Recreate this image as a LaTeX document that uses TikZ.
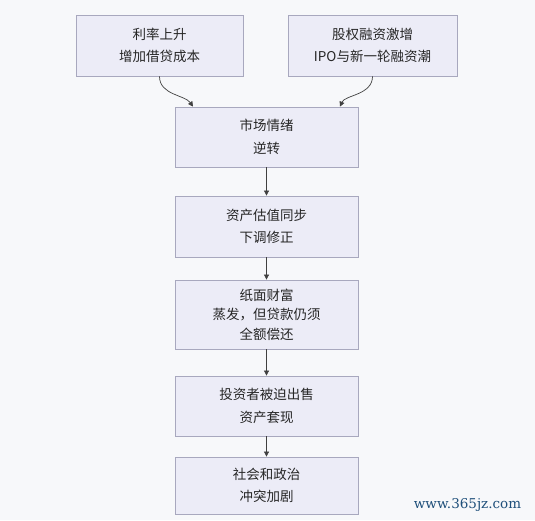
\documentclass[tikz,border=0pt]{standalone}
\usepackage{fontspec}
\setmainfont{Noto Sans CJK SC}
\newfontfamily\wmfont{DejaVu Serif}
\usetikzlibrary{arrows.meta}
\definecolor{bgc}{HTML}{F7F8FA}
\definecolor{boxfill}{HTML}{ECECF7}
\definecolor{boxline}{HTML}{A8A8BE}
\definecolor{arrc}{HTML}{404040}
\definecolor{wmc}{HTML}{1E4F7A}
\tikzset{
  stepbox/.style={draw=boxline, fill=boxfill, line width=0.8pt, inner sep=0pt,
    text=black!85, font=\fontsize{13.5}{22.5}\selectfont, align=center},
  flow/.style={draw=arrc, line width=0.7pt, -{Triangle[length=5pt,width=5pt]}}
}
\begin{document}
\begin{tikzpicture}[x=1pt,y=-1pt]
\fill[bgc] (0,0) rectangle (535,520);
\useasboundingbox (0,0) rectangle (535,520);
\node[stepbox, minimum width=167pt, minimum height=61pt] (a) at (159.5,45.5) {利率上升\\增加借贷成本};
\node[stepbox, minimum width=169pt, minimum height=61pt] (b) at (372.5,45.5) {股权融资激增\\IPO与新一轮融资潮};
\node[stepbox, minimum width=183pt, minimum height=60pt] (c) at (266.5,137) {市场情绪\\逆转};
\node[stepbox, minimum width=183pt, minimum height=61pt] (d) at (266.5,226.5) {资产估值同步\\下调修正};
\node[stepbox, minimum width=183pt, minimum height=69pt, font=\fontsize{13.5}{19.5}\selectfont] (e) at (266.5,314.5) {纸面财富\\蒸发，但贷款仍须\\全额偿还};
\node[stepbox, minimum width=183pt, minimum height=60pt] (f) at (266.5,406) {投资者被迫出售\\资产套现};
\node[stepbox, minimum width=183pt, minimum height=57pt] (g) at (266.5,485.5) {社会和政治\\冲突加剧};
\draw[flow] (a.south) .. controls (159.5,95) and (185,95) .. ([xshift=-73.5pt]c.north);
\draw[flow] (b.south) .. controls (372.5,95) and (345,95) .. ([xshift=73.5pt]c.north);
\draw[flow] (c) -- (d);
\draw[flow] (d) -- (e);
\draw[flow] (e) -- (f);
\draw[flow] (f) -- (g);
\node[text=wmc, font=\wmfont\fontsize{13.5}{15}\selectfont, anchor=center] (wm) at (467.5,505) {www.365jz.com};
\end{tikzpicture}
\end{document}
